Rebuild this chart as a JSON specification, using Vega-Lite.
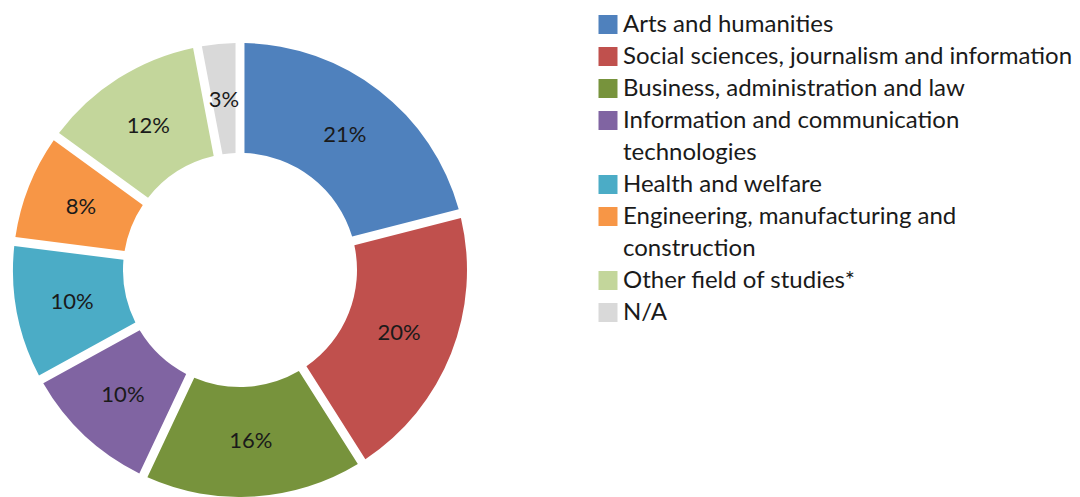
{
  "$schema": "https://vega.github.io/schema/vega-lite/v6.json",
  "autosize": "none",
  "width": 480,
  "height": 454,
  "padding": {"left": 0, "top": 43, "right": 600, "bottom": 0},
  "background": "white",
  "config": {
    "view": {"stroke": null},
    "font": "Lato",
    "style": {"guide-label": {"lineHeight": 32}}
  },
  "data": {
    "values": [
      {"field": "Arts and humanities", "share": 0.21, "order": 1},
      {"field": "Social sciences, journalism and information", "share": 0.20, "order": 2},
      {"field": "Business, administration and law", "share": 0.16, "order": 3},
      {"field": "Information and communication technologies", "share": 0.10, "order": 4},
      {"field": "Health and welfare", "share": 0.10, "order": 5},
      {"field": "Engineering, manufacturing and construction", "share": 0.08, "order": 6},
      {"field": "Other field of studies*", "share": 0.12, "order": 7},
      {"field": "N/A", "share": 0.03, "order": 8}
    ]
  },
  "encoding": {
    "theta": {"field": "share", "type": "quantitative", "stack": true},
    "order": {"field": "order", "type": "quantitative"}
  },
  "layer": [
    {
      "mark": {"type": "arc", "innerRadius": 117, "outerRadius": 227, "padAngle": 0.035},
      "encoding": {
        "color": {
          "field": "field",
          "type": "nominal",
          "scale": {
            "domain": [
              "Arts and humanities",
              "Social sciences, journalism and information",
              "Business, administration and law",
              "Information and communication technologies",
              "Health and welfare",
              "Engineering, manufacturing and construction",
              "Other field of studies*",
              "N/A"
            ],
            "range": ["#4F81BD", "#C0504D", "#77933C", "#8064A2", "#4BACC6", "#F79646", "#C3D69B", "#D9D9D9"]
          },
          "legend": {
            "orient": "none",
            "legendX": 596,
            "legendY": -30.5,
            "title": null,
            "symbolType": "square",
            "symbolSize": 361,
            "symbolStrokeWidth": 0,
            "labelFont": "Lato",
            "labelFontSize": 24,
            "labelColor": "#1a1a1a",
            "labelOffset": 3,
            "rowPadding": 8,
            "labelLimit": 500,
            "labelExpr": "datum.label == 'Information and communication technologies' ? ['Information and communication', 'technologies'] : datum.label == 'Engineering, manufacturing and construction' ? ['Engineering, manufacturing and', 'construction'] : datum.label"
          }
        }
      }
    },
    {
      "mark": {"type": "text", "radius": 171, "fontSize": 22, "color": "#1a1a1a", "font": "Lato"},
      "encoding": {
        "text": {"field": "share", "type": "quantitative", "format": ".0%"}
      }
    }
  ]
}
